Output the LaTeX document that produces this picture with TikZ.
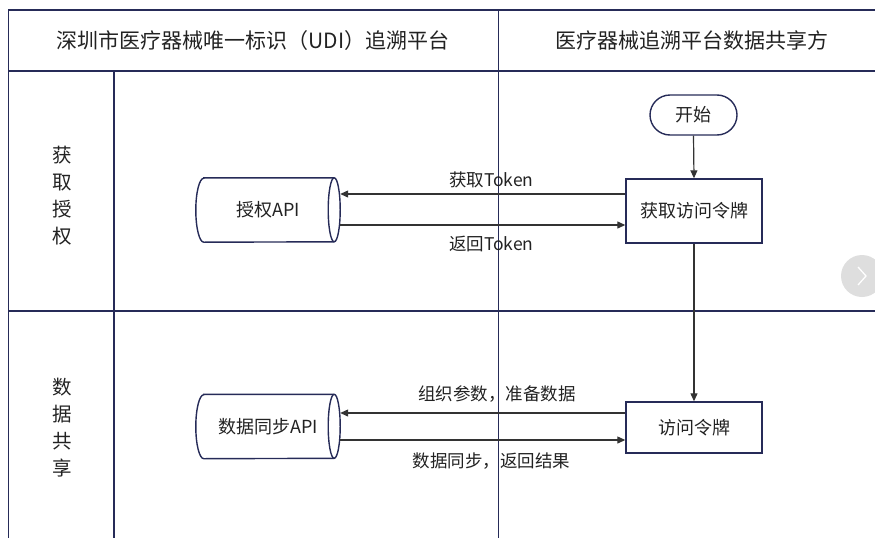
\documentclass[tikz,border=0pt]{standalone}
\usepackage{fontspec}
\setmainfont{Noto Sans CJK SC}
\usetikzlibrary{arrows.meta}
\definecolor{navy}{HTML}{262B58}
\definecolor{ink}{HTML}{222222}
\definecolor{arr}{HTML}{333333}
\definecolor{btn}{HTML}{DEDEDE}
\newcommand{\drawcyl}[1]{%
  \draw[nodeline] ([xshift=8pt]#1.north west) -- ([xshift=-6pt]#1.north east)
    arc[start angle=90,end angle=-90,x radius=6pt,y radius=32pt]
    -- ([xshift=8pt]#1.south west)
    arc[start angle=270,end angle=90,x radius=8pt,y radius=32pt] -- cycle;
  \draw[nodeline] ([xshift=-6pt]#1.north east)
    arc[start angle=90,end angle=270,x radius=6pt,y radius=32pt];}
\begin{document}
\begin{tikzpicture}[x=1pt,y=-1pt,
  grid/.style={navy,line width=1.5pt},
  nodeline/.style={navy,line width=1.4pt},
  head/.style={text=ink,font=\fontsize{21}{24}\selectfont,inner sep=0pt},
  lane/.style={text=ink,font=\fontsize{19.5}{27}\selectfont,align=center,inner sep=0pt},
  proc/.style={draw=navy,line width=1.4pt,text=ink,font=\fontsize{18}{22}\selectfont,minimum width=136pt,inner sep=0pt},
  term/.style={draw=navy,line width=1.4pt,text=ink,font=\fontsize{18}{22}\selectfont,minimum width=87pt,minimum height=40pt,rounded corners=20pt,inner sep=0pt},
  cyl/.style={text=ink,font=\fontsize{18}{22}\selectfont,minimum width=144pt,minimum height=64pt,inner sep=0pt},
  flow/.style={arr,line width=1.2pt,-{Triangle[length=8pt,width=7pt]}},
  lbl/.style={text=ink,font=\fontsize{17.5}{21}\selectfont,inner sep=0pt}]
\useasboundingbox (0,0) rectangle (875,538);
% table
\draw[grid] (875,10) -- (8.5,10) -- (8.5,538);
\draw[grid] (8.5,71) -- (875,71);
\draw[grid] (8.5,311) -- (875,311);
\draw[grid] (114,71) -- (114,538);
\draw[grid] (498.5,10) -- (498.5,538);
% headers and lanes
\node[head] (h1) at (253,40.5) {深圳市医疗器械唯一标识（UDI）追溯平台};
\node[head] (h2) at (692,40.5) {医疗器械追溯平台数据共享方};
\node[lane] (l1) at (62,196) {获\\取\\授\\权};
\node[lane] (l2) at (62,428) {数\\据\\共\\享};
% nodes
\node[term] (start) at (693.5,115) {开始};
\node[proc,minimum height=64pt] (tok) at (694,211) {获取访问令牌};
\node[proc,minimum height=51pt] (acc) at (694,427.5) {访问令牌};
\node[cyl] (api) at (268,210) {授权API};
\drawcyl{api}
\node[cyl] (sync) at (268,426.5) {数据同步API};
\drawcyl{sync}
% connector levels
\coordinate (y1) at (0,194);
\coordinate (y2) at (0,225);
\coordinate (y3) at (0,413);
\coordinate (y4) at (0,440);
% connectors
\draw[flow] (start.south) -- (tok.north);
\draw[flow] (tok.south) -- (acc.north);
\draw[flow] (tok.west |- y1) -- node[lbl,pos=0.47,above=5pt] {获取Token} (api.east |- y1);
\draw[flow] (api.east |- y2) -- node[lbl,pos=0.53,below=10pt] {返回Token} (tok.west |- y2);
\draw[flow] (acc.west |- y3) -- node[lbl,pos=0.45,above=10pt] {组织参数，准备数据} (sync.east |- y3);
\draw[flow] (sync.east |- y4) -- node[lbl,pos=0.53,below=12pt] {数据同步，返回结果} (acc.west |- y4);
% viewer button
\fill[btn] (862,276) circle[radius=21pt];
\draw[white,line width=1.3pt] (858,267) -- (866,276) -- (858,285);
\end{tikzpicture}
\end{document}
